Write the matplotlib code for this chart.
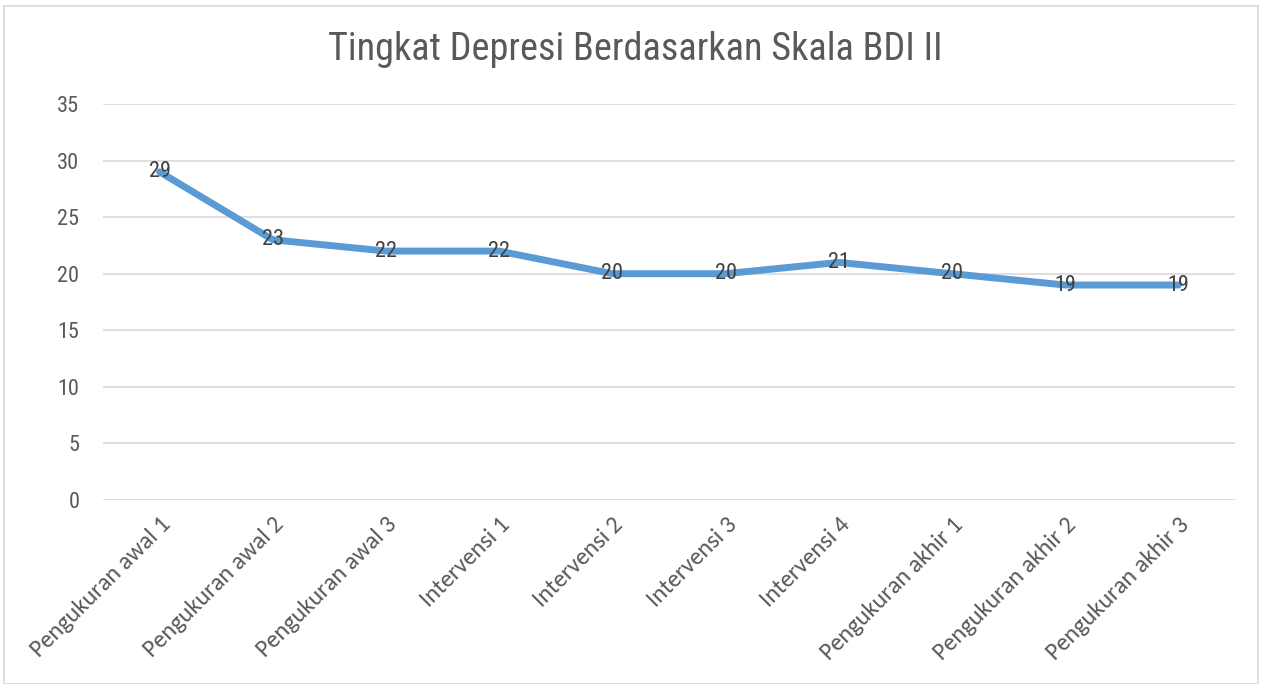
import matplotlib
matplotlib.use("Agg")
import matplotlib.pyplot as plt
from matplotlib.patches import Rectangle

categories = ["Pengukuran awal 1", "Pengukuran awal 2", "Pengukuran awal 3",
              "Intervensi 1", "Intervensi 2", "Intervensi 3", "Intervensi 4",
              "Pengukuran akhir 1", "Pengukuran akhir 2", "Pengukuran akhir 3"]
values = [29, 23, 22, 22, 20, 20, 21, 20, 19, 19]
yticks = [0, 5, 10, 15, 20, 25, 30, 35]
title = "Tingkat Depresi Berdasarkan Skala BDI II"

narrow = ["Roboto Condensed", "DejaVu Sans"]
calib = ["Carlito", "DejaVu Sans"]

fig = plt.figure(figsize=(12.62, 6.84), dpi=100)
fig.patches.append(Rectangle((4/1262, 0.0), 1254/1262, 1 - 6/684, transform=fig.transFigure,
                             fill=False, edgecolor="#d9d9d9", linewidth=1.2))
ax = fig.add_axes([103/1262, 1 - 500/684, 1132/1262, 396/684])

x = list(range(len(categories)))
ax.plot(x, values, color="#5b9bd5", linewidth=5, solid_capstyle="round", zorder=3)
for xi, v in zip(x, values):
    ax.text(xi, v, str(v), ha="center", va="center", fontsize=16, color="#404040",
            family=narrow, zorder=4)

ax.set_xlim(-0.5, len(categories) - 0.5)
ax.set_ylim(0, 35)
ax.set_yticks(yticks)
ax.set_yticklabels([str(t) for t in yticks], family=narrow, fontsize=16, color="#595959")
ax.grid(axis="y", color="#d9d9d9", linewidth=1.2)
ax.set_axisbelow(True)
for s in ax.spines.values():
    s.set_visible(False)
ax.tick_params(axis="both", length=0)
ax.tick_params(axis="y", pad=17)
ax.set_xticks(x)
ax.set_xticklabels(categories, rotation=45, ha="right", rotation_mode="anchor",
                   family=calib, fontsize=17.5, color="#595959")
ax.tick_params(axis="x", pad=10)

fig.text(635/1262, 1 - 50/684, title, ha="center", va="center", fontsize=27.5,
         color="#595959", family=narrow)

fig.savefig("out.png", dpi=100)
